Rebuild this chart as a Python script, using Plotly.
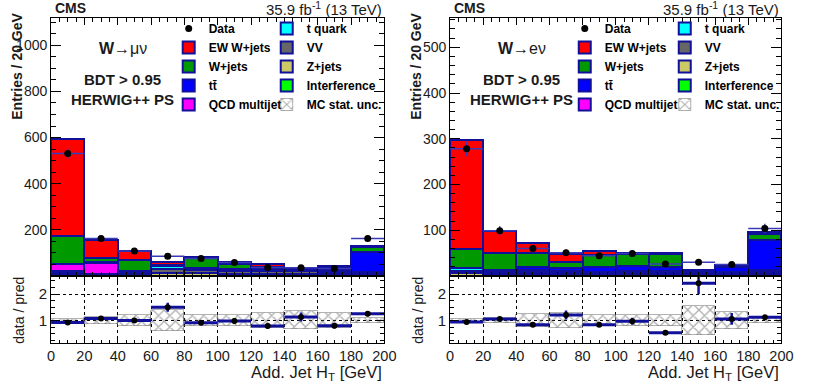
import plotly.graph_objects as go

W, H = 814, 391
FONT = "Liberation Sans"
NAVY = "#10109a"

bin_centers = [10, 30, 50, 70, 90, 110, 130, 150, 170, 190]
bin_half = [10] * 10
x_ticks = [0, 20, 40, 60, 80, 100, 120, 140, 160, 180, 200]

# W -> mu nu channel (stack components, bottom to top)
mu_zjets = [8, 3, 6, 15, 12, 10, 10, 10, 9, 4]
mu_vv = [6, 3, 6, 14, 12, 10, 10, 10, 9, 3]
mu_tquark = [8, 4, 8, 14, 12, 10, 10, 10, 8, 3]
mu_interf = [0, 0, 0, 0, 0, 0, 0, 0, 0, 0]
mu_qcd = [28, 45, 0, 0, 0, 0, 0, 0, 0, 9]
mu_ttbar = [4, 4, 3, 2, 0, 0, 0, 0, 0, 86]
mu_wjets = [120, 17, 47, 4, 40, 22, 10, 3, 10, 19]
mu_ewk = [419, 82, 40, 13, 8, 9, 11, 3, 8, 7]
mu_data = [531, 162, 108, 86, 76, 58, 37, 36, 33, 162]
mu_data_err = [23, 13, 10, 9, 9, 8, 6, 6, 6, 13]
mu_ratio = [0.925, 1.075, 1.0, 1.5, 0.91, 0.98, 0.79, 1.13, 0.80, 1.25]
mu_ratio_err = [0.04, 0.05, 0.06, 0.17, 0.07, 0.1, 0.1, 0.17, 0.1, 0.09]
mu_mcunc = [0.06, 0.14, 0.22, 0.38, 0.2, 0.2, 0.3, 0.34, 0.28, 0.08]

# W -> e nu channel
el_zjets = [6, 5, 3, 4, 3, 4, 4, 5, 3, 3]
el_vv = [5, 4, 3, 4, 3, 3, 3, 4, 3, 3]
el_tquark = [6, 4, 2, 4, 2, 3, 3, 4, 2, 2]
el_interf = [0, 0, 0, 0, 0, 0, 0, 0, 0, 0]
el_qcd = [0, 0, 5, 0, 0, 0, 0, 0, 0, 5]
el_ttbar = [0, 0, 6, 6, 12, 12, 10, 0, 12, 65]
el_wjets = [43, 38, 32, 13, 26, 26, 28, 0, 2, 13]
el_ewk = [238, 47, 22, 17, 8, 3, 3, 0, 2, 5]
el_data = [278, 99, 60, 51, 44, 49, 26, 30, 25, 104]
el_data_err = [16, 10, 8, 7, 7, 7, 5, 5, 5, 10]
el_ratio = [0.94, 1.06, 0.84, 1.21, 0.84, 0.97, 0.54, 2.41, 1.06, 1.12]
el_ratio_err = [0.04, 0.06, 0.08, 0.17, 0.09, 0.13, 0.05, 0.42, 0.22, 0.07]
el_mcunc = [0.05, 0.1, 0.25, 0.27, 0.22, 0.22, 0.22, 0.54, 0.33, 0.1]

# name, colour, legend column (0/1), rank
components = [
    ("Z+jets", "#cdc866", 1, 3),
    ("VV", "#666666", 1, 2),
    ("t quark", "#00ffff", 1, 1),
    ("Interference", "#00ff00", 1, 4),
    ("QCD multijet", "#ff00ff", 0, 5),
    ("tt\u0304", "#0000ff", 0, 4),
    ("W+jets", "#009900", 0, 3),
    ("EW W+jets", "#ff0000", 0, 2),
]


def px_x(p):
    return p / W


def px_y(p):
    return 1 - p / H


fig = go.Figure()


def add_panel(ax_top, ax_rat, legs, stack, data, data_err, ratio, ratio_err, mcunc):
    xt, yt = ax_top
    xr, yr = ax_rat
    for (name, color, col, rank), vals in zip(components, stack):
        fig.add_trace(go.Bar(x=bin_centers, y=vals, width=20, name=f"<b>{name}</b>",
                             marker=dict(color=color, line=dict(color=NAVY, width=2)),
                             xaxis=xt, yaxis=yt, legend=legs[col], legendrank=rank))
    fig.add_trace(go.Scatter(x=bin_centers, y=data, mode="markers", name="<b>Data</b>",
                             marker=dict(color="black", size=7),
                             error_y=dict(type="data", array=data_err, color="#3a3ab8", thickness=1.5, width=0),
                             error_x=dict(type="data", array=bin_half, color="#3a3ab8", thickness=1.5, width=0),
                             xaxis=xt, yaxis=yt, legend=legs[0], legendrank=1))
    fig.add_trace(go.Bar(x=bin_centers, y=[2 * u for u in mcunc], base=[1 - u for u in mcunc], width=20,
                         name="<b>MC stat. unc.</b>",
                         marker=dict(color="rgba(255,255,255,0)", line=dict(color="#666", width=0.5),
                                     pattern=dict(shape="x", fgcolor="#5a5a5a", size=8, solidity=0.3)),
                         xaxis=xr, yaxis=yr, legend=legs[1], legendrank=5))
    fig.add_trace(go.Scatter(x=bin_centers, y=ratio, mode="markers", showlegend=False,
                             marker=dict(color="black", size=6),
                             error_y=dict(type="data", array=ratio_err, color=NAVY, thickness=2.5, width=0),
                             error_x=dict(type="data", array=bin_half, color=NAVY, thickness=3, width=0),
                             xaxis=xr, yaxis=yr))


add_panel(("x", "y"), ("x2", "y2"), ["legend", "legend2"],
          [mu_zjets, mu_vv, mu_tquark, mu_interf, mu_qcd, mu_ttbar, mu_wjets, mu_ewk],
          mu_data, mu_data_err, mu_ratio, mu_ratio_err, mu_mcunc)
add_panel(("x3", "y3"), ("x4", "y4"), ["legend3", "legend4"],
          [el_zjets, el_vv, el_tquark, el_interf, el_qcd, el_ttbar, el_wjets, el_ewk],
          el_data, el_data_err, el_ratio, el_ratio_err, el_mcunc)

tick_font = dict(family=FONT, size=14, color="#1a1a1a")
top_dom = [px_y(276), px_y(18)]
rat_dom = [px_y(343), px_y(276)]
left_dom = [px_x(48), px_x(388)]
right_dom = [px_x(455), px_x(793)]


def frame(**kw):
    d = dict(showline=True, linecolor="black", linewidth=1, mirror="allticks", ticks="inside",
             tickcolor="black", zeroline=False, showgrid=False, tickfont=tick_font)
    d.update(kw)
    return d


layout_axes = {}
for i, (dom, ymax, ytv, ymdt) in enumerate([
        (left_dom, 1118, [200, 400, 600, 800, 1000], 50),
        (right_dom, 564, [100, 200, 300, 400, 500], 20)]):
    n_top = 2 * i + 1
    n_rat = 2 * i + 2
    sx = "" if n_top == 1 else str(n_top)
    layout_axes[f"xaxis{sx}"] = frame(domain=dom, range=[0, 200], anchor=f"y{sx}", tickvals=x_ticks,
                                      showticklabels=False, ticklen=7,
                                      minor=dict(dtick=5, ticks="inside", ticklen=4, tickcolor="black"))
    layout_axes[f"yaxis{sx}"] = frame(domain=top_dom, range=[0, ymax], anchor=f"x{sx}", tickvals=ytv,
                                      ticklen=10,
                                      minor=dict(dtick=ymdt, ticks="inside", ticklen=5, tickcolor="black"))
    layout_axes[f"xaxis{n_rat}"] = frame(domain=dom, range=[0, 200], anchor=f"y{n_rat}", tickvals=x_ticks,
                                         ticklen=6, showgrid=True, gridcolor="black", griddash="dot", gridwidth=1,
                                         tickfont=dict(family=FONT, size=14.5, color="#1a1a1a"),
                                         minor=dict(dtick=5, ticks="inside", ticklen=3, tickcolor="black"))
    layout_axes[f"yaxis{n_rat}"] = frame(domain=rat_dom, range=[0.15, 2.68], anchor=f"x{n_rat}", tickvals=[1, 2],
                                         ticklen=7, showgrid=True, gridcolor="black", griddash="dot", gridwidth=1,
                                         tickfont=dict(family=FONT, size=15, color="#1a1a1a"),
                                         minor=dict(dtick=0.25, ticks="inside", ticklen=4, tickcolor="black"))

leg_common = dict(xanchor="left", yanchor="top", bgcolor="rgba(0,0,0,0)", traceorder="normal",
                  tracegroupgap=0, font=dict(family=FONT, size=12, color="black"), itemwidth=30)

annotations = []
for off, chan in [(0, "<b>W</b>\u2192\u03bc\u03bd"), (407, "<b>W</b>\u2192e\u03bd")]:
    right_edge = 388 if off == 0 else 793
    annotations += [
        dict(x=px_x(off + 50), y=px_y(8), text="<b>CMS</b>", xanchor="left", font=dict(size=14)),
        dict(x=px_x(right_edge), y=px_y(8), text="35.9 fb<sup>-1</sup> (13 TeV)",
             xanchor="right", font=dict(size=15)),
        dict(x=px_x(off + 121), y=px_y(48), text=chan, xanchor="center", font=dict(size=16)),
        dict(x=px_x(off + 121), y=px_y(80), text="<b>BDT > 0.95</b>", xanchor="center", font=dict(size=15)),
        dict(x=px_x(off + 121), y=px_y(99), text="<b>HERWIG++ PS</b>", xanchor="center", font=dict(size=15)),
        dict(x=px_x(off + 13), y=px_y(66), text="<b>Entries / 20 GeV</b>", textangle=-90,
             xanchor="center", font=dict(size=14)),
        dict(x=px_x(off + 15), y=px_y(310), text="data / pred", textangle=-90, xanchor="center",
             font=dict(size=14)),
        dict(x=px_x(right_edge), y=px_y(373), text="Add. Jet H<sub>T</sub> [GeV]",
             xanchor="right", font=dict(size=16.5)),
    ]
for a in annotations:
    a.update(xref="paper", yref="paper", showarrow=False, yanchor="middle")
    a["font"] = dict(family=FONT, color="#1a1a1a", **a["font"])

fig.update_layout(
    width=W, height=H, margin=dict(l=0, r=0, t=0, b=0),
    paper_bgcolor="white", plot_bgcolor="white",
    barmode="stack", bargap=0,
    font=dict(family=FONT, color="#1a1a1a"),
    legend=dict(x=px_x(168), y=px_y(14), **leg_common),
    legend2=dict(x=px_x(268), y=px_y(14), **leg_common),
    legend3=dict(x=px_x(572), y=px_y(14), **leg_common),
    legend4=dict(x=px_x(674), y=px_y(14), **leg_common),
    annotations=annotations,
    **layout_axes,
)

# the page body has a default 8px margin; drop it so the figure sits at the window origin
fig.write_html("out.html", config={"displayModeBar": False},
               post_script="document.body.style.margin='0';")
